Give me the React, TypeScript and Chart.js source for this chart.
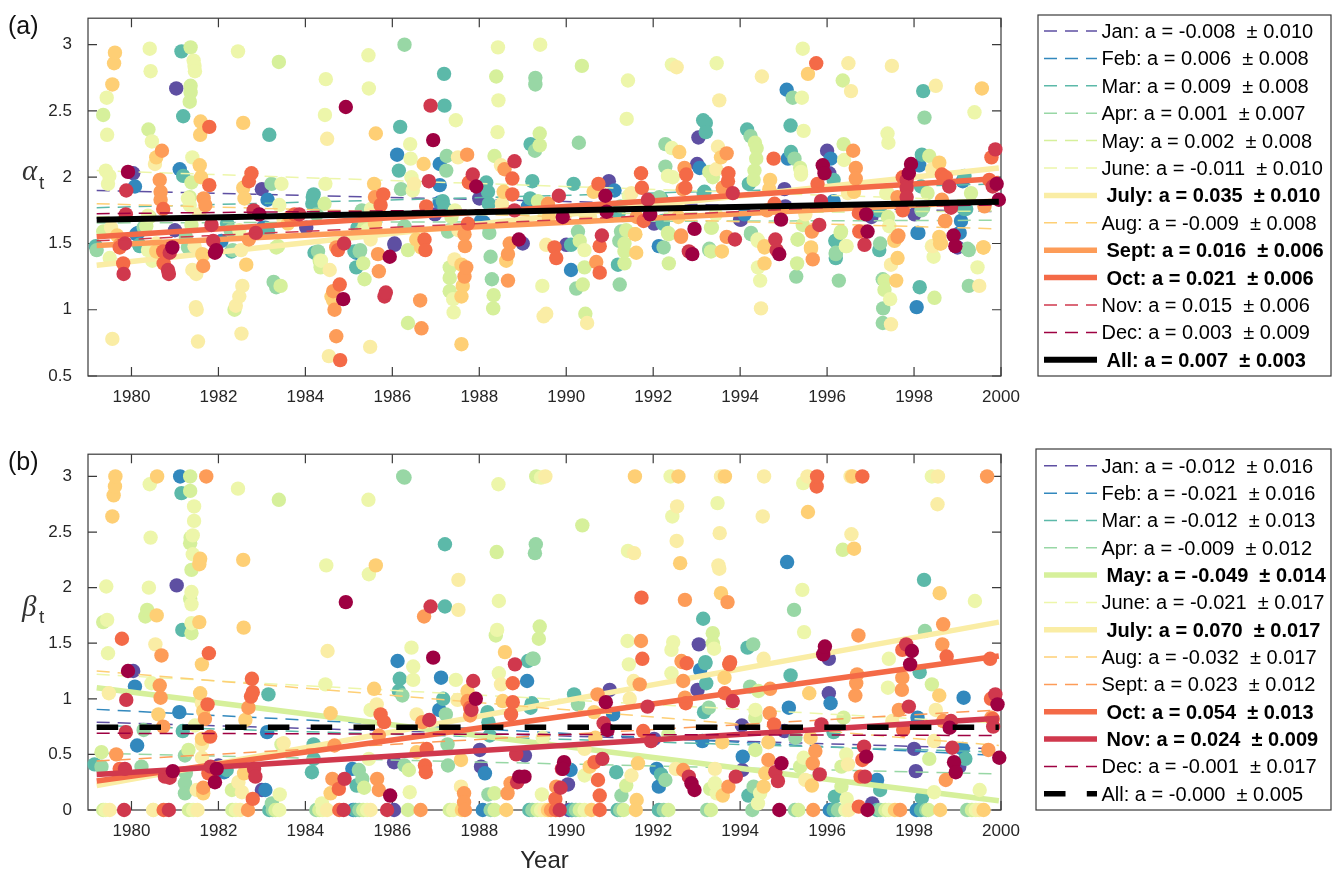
import React, { useEffect, useRef } from "react";
import { Chart, registerables } from "chart.js";

Chart.register(...registerables);

type P = [number, number];

const monthNames = ["Jan", "Feb", "Mar", "Apr", "May", "June", "July", "Aug", "Sept", "Oct", "Nov", "Dec"];
const monthColors = ["#5E4FA2", "#3288BD", "#5CB9A9", "#98D7A5", "#D6F09B", "#EDF6AA", "#FAEDA5", "#FECF75", "#FD9C58", "#F46A47", "#D0384D", "#9E0142"];
const yearTicks = [1980, 1982, 1984, 1986, 1988, 1990, 1992, 1994, 1996, 1998, 2000];
const alphaTicks = [0.5, 1, 1.5, 2, 2.5, 3];
const betaTicks = [0, 0.5, 1, 1.5, 2, 2.5, 3];
const fitSpan = [1979.2, 1999.95];

const alphaSlopes = ["-0.008", "0.006", "0.009", "0.001", "0.002", "-0.011", "0.035", "-0.009", "0.016", "0.021", "0.015", "0.003", "0.007"];
const alphaErrors = ["0.010", "0.008", "0.008", "0.007", "0.008", "0.010", "0.010", "0.008", "0.006", "0.006", "0.006", "0.009", "0.003"];
const alphaBold = [false, false, false, false, false, false, true, false, true, true, false, false, true];
const alphaFitStart = [1.9, 1.69, 1.77, 1.655, 1.7, 2.05, 1.335, 1.8, 1.485, 1.55, 1.52, 1.725, 1.68];
const alphaFitEnd = [1.74, 1.82, 1.95, 1.675, 1.745, 1.82, 2.07, 1.61, 1.82, 1.99, 1.83, 1.79, 1.815];

const betaSlopes = ["-0.012", "-0.021", "-0.012", "-0.009", "-0.049", "-0.021", "0.070", "-0.032", "0.023", "0.054", "0.024", "-0.001", "-0.000"];
const betaErrors = ["0.016", "0.016", "0.013", "0.012", "0.014", "0.017", "0.017", "0.017", "0.012", "0.013", "0.009", "0.017", "0.005"];
const betaBold = [false, false, false, false, true, false, true, false, false, true, true, false, false];
const betaFitStart = [0.79, 0.905, 0.76, 0.51, 1.1, 1.22, 0.22, 1.25, 0.44, 0.26, 0.32, 0.69, 0.745];
const betaFitEnd = [0.55, 0.49, 0.52, 0.325, 0.083, 0.78, 1.69, 0.58, 0.9, 1.385, 0.825, 0.67, 0.745];

const alphaJan: P[] = [[1980.04,2.03],[1981.03,2.67],[1981.0,1.6],[1983.0,1.91],[1984.02,1.62],[1986.05,1.49],[1986.98,1.72],[1988.0,1.84],[1989.0,1.5],[1990.0,1.49],[1990.98,1.97],[1992.02,1.65],[1993.01,2.1],[1993.04,2.3],[1994.0,1.68],[1995.02,1.91],[1995.04,1.78],[1996.0,2.2],[1996.05,2.03],[1997.02,1.7],[1998.01,1.72],[1999.0,1.47],[1986.05,1.5],[1994.02,1.68]];
const alphaFeb: P[] = [[1980.08,1.93],[1980.11,1.57],[1980.15,1.58],[1981.11,2.06],[1982.07,1.52],[1983.02,1.62],[1983.13,1.83],[1983.08,1.62],[1985.17,1.43],[1986.11,2.17],[1987.09,2.1],[1987.09,1.94],[1987.09,1.81],[1988.04,1.67],[1988.1,1.66],[1989.12,1.78],[1990.11,1.3],[1991.11,1.9],[1992.13,1.48],[1993.07,2.07],[1994.1,1.72],[1995.07,2.66],[1995.1,2.14],[1996.08,2.14],[1996.15,1.82],[1997.12,1.75],[1998.06,1.02],[1998.08,1.58],[1998.1,1.58],[1998.12,2.09],[1999.05,1.58],[1999.08,1.67],[1999.12,1.97]];
const alphaMar: P[] = [[1979.18,1.48],[1980.18,1.49],[1980.19,1.48],[1981.15,2.95],[1981.19,2.46],[1981.19,2.01],[1982.2,1.65],[1982.3,1.44],[1983.14,1.59],[1983.17,2.32],[1984.16,1.8],[1984.17,1.85],[1984.19,1.87],[1984.21,1.43],[1985.13,1.44],[1985.17,1.32],[1985.2,1.62],[1986.15,2.05],[1986.18,2.38],[1987.16,1.82],[1987.19,2.78],[1987.2,2.54],[1987.2,1.77],[1988.16,1.96],[1988.2,1.89],[1988.22,1.8],[1989.17,1.84],[1989.18,2.25],[1989.22,1.97],[1990.11,1.49],[1990.17,1.95],[1991.19,1.34],[1991.2,1.72],[1992.18,1.84],[1992.22,1.65],[1992.22,1.67],[1993.15,2.43],[1993.18,1.89],[1993.21,2.41],[1993.21,2.34],[1993.16,1.88],[1994.16,2.36],[1994.2,1.95],[1995.16,2.39],[1995.17,2.19],[1996.15,1.98],[1996.19,1.52],[1996.2,1.39],[1996.2,1.52],[1997.2,1.45],[1997.2,1.75],[1998.13,1.17],[1998.16,1.93],[1998.18,2.17],[1998.21,2.65],[1999.15,1.76],[1999.16,2.01],[1999.2,1.76]];
const alphaApr: P[] = [[1979.2,1.45],[1980.28,1.62],[1981.25,1.55],[1981.3,1.47],[1982.28,1.6],[1982.33,1.45],[1983.22,1.95],[1983.27,1.21],[1983.33,1.17],[1984.26,1.72],[1984.29,1.44],[1985.25,1.44],[1985.26,1.45],[1985.28,1.59],[1985.3,1.75],[1986.2,1.91],[1986.28,3.0],[1986.28,1.63],[1987.24,2.05],[1987.25,2.16],[1987.28,1.59],[1987.32,1.6],[1988.23,1.58],[1988.26,1.4],[1988.29,1.23],[1989.29,2.75],[1989.29,2.7],[1989.28,2.2],[1990.23,1.16],[1990.27,1.59],[1990.29,2.26],[1991.22,1.52],[1991.23,1.19],[1991.25,1.78],[1991.26,1.59],[1992.14,1.85],[1992.24,1.47],[1992.28,2.08],[1992.28,2.25],[1993.29,1.46],[1993.29,1.45],[1994.24,2.31],[1994.25,1.57],[1994.25,1.58],[1995.21,2.6],[1995.25,2.14],[1995.29,1.25],[1996.2,1.43],[1996.2,1.42],[1996.27,1.22],[1997.22,1.5],[1997.28,1.23],[1997.29,1.01],[1997.28,0.9],[1998.17,1.75],[1998.21,1.77],[1998.24,2.45],[1999.23,1.46],[1999.26,1.45],[1999.26,1.18]];
const alphaMay: P[] = [[1979.35,2.47],[1979.35,1.59],[1980.39,2.36],[1980.34,1.63],[1980.42,1.7],[1981.34,2.57],[1981.36,2.69],[1981.36,2.64],[1981.36,2.98],[1981.38,1.96],[1981.38,1.64],[1981.34,1.85],[1982.37,1.0],[1983.33,1.47],[1983.37,1.48],[1983.39,2.87],[1983.43,1.18],[1984.33,1.37],[1984.35,1.32],[1984.44,1.8],[1985.33,1.35],[1985.36,1.23],[1985.36,1.63],[1985.38,1.68],[1986.36,0.9],[1986.36,1.45],[1987.32,1.32],[1987.32,1.24],[1987.32,1.14],[1987.36,1.7],[1988.32,1.01],[1988.33,1.11],[1988.35,2.16],[1988.39,2.76],[1989.35,1.82],[1989.39,2.33],[1989.39,2.24],[1990.31,1.52],[1990.36,2.84],[1990.38,1.19],[1990.42,1.32],[1990.44,0.97],[1991.34,1.35],[1991.34,1.44],[1991.34,1.5],[1991.38,1.6],[1992.34,1.58],[1992.36,1.57],[1992.36,1.35],[1993.29,2.04],[1993.37,2.0],[1993.33,1.44],[1993.33,1.62],[1993.35,1.62],[1994.34,2.26],[1994.38,2.22],[1994.37,2.14],[1994.33,2.05],[1994.31,1.98],[1995.31,1.35],[1995.32,1.53],[1995.33,1.53],[1995.38,2.07],[1995.44,1.64],[1996.31,1.58],[1996.32,1.59],[1996.36,2.73],[1996.38,2.25],[1997.32,1.22],[1997.32,1.15],[1997.4,1.7],[1998.31,1.88],[1998.35,2.16],[1998.47,1.09],[1999.31,1.88]];
const alphaJune: P[] = [[1979.41,2.05],[1979.43,2.6],[1979.44,2.32],[1979.46,1.95],[1979.49,2.01],[1979.5,1.39],[1980.38,1.71],[1980.38,1.45],[1980.42,2.97],[1980.44,2.8],[1980.47,2.27],[1980.48,1.37],[1981.3,1.84],[1981.34,1.79],[1981.4,2.15],[1981.43,2.88],[1981.45,2.84],[1981.46,2.8],[1982.45,2.95],[1982.48,1.6],[1983.4,1.79],[1983.45,1.95],[1984.36,1.37],[1984.45,2.47],[1984.46,1.95],[1984.47,2.74],[1985.42,1.6],[1985.45,2.92],[1985.46,2.67],[1985.51,1.76],[1986.41,2.25],[1986.42,2.14],[1986.44,2.0],[1986.47,1.9],[1987.4,1.08],[1987.41,0.98],[1987.46,2.43],[1987.44,1.75],[1988.42,2.34],[1988.43,2.98],[1988.44,2.58],[1989.4,3.0],[1989.45,1.18],[1990.42,1.45],[1990.44,1.72],[1991.39,2.44],[1991.42,2.73],[1991.44,1.86],[1992.34,2.01],[1992.43,2.22],[1992.43,2.85],[1992.45,2.0],[1993.46,2.86],[1993.44,1.72],[1994.4,1.53],[1994.41,1.52],[1994.41,1.32],[1994.46,1.22],[1995.4,2.02],[1995.4,2.04],[1995.42,2.6],[1995.44,2.97],[1995.46,2.35],[1996.39,2.13],[1996.43,1.48],[1996.45,1.48],[1997.36,1.88],[1997.39,2.33],[1997.39,1.88],[1997.41,2.26],[1997.43,1.63],[1997.45,1.08],[1998.41,1.48],[1998.45,1.4],[1999.39,2.49],[1999.46,1.32]];
const alphaJuly: P[] = [[1979.56,0.78],[1979.53,1.62],[1980.54,2.1],[1980.57,1.5],[1981.4,1.3],[1981.45,1.48],[1981.49,1.27],[1981.48,1.02],[1981.5,1.0],[1981.53,0.76],[1981.56,1.72],[1982.4,1.03],[1982.48,1.1],[1982.52,1.45],[1982.55,1.18],[1982.53,0.82],[1983.5,1.68],[1984.5,2.29],[1984.56,1.3],[1984.54,0.65],[1985.49,0.72],[1985.5,1.53],[1985.52,1.72],[1986.5,1.95],[1987.43,1.38],[1987.51,2.15],[1987.52,1.6],[1988.5,2.09],[1988.52,1.8],[1989.48,0.95],[1989.54,0.97],[1989.54,1.49],[1990.48,0.9],[1990.55,1.7],[1991.5,1.88],[1992.54,2.83],[1992.5,1.75],[1993.45,2.06],[1993.49,2.23],[1993.52,2.58],[1994.48,1.01],[1994.5,2.76],[1995.5,1.72],[1996.48,1.88],[1996.49,2.86],[1996.55,2.65],[1997.47,0.89],[1997.47,1.34],[1997.49,2.84],[1998.42,2.06],[1998.43,1.48],[1998.5,2.69],[1999.5,1.18]];
const alphaAug: P[] = [[1979.56,2.7],[1979.6,2.86],[1979.62,2.94],[1979.67,1.56],[1980.57,1.44],[1980.57,2.15],[1981.57,2.09],[1981.58,2.32],[1981.59,2.42],[1981.6,2.0],[1981.63,1.42],[1981.64,1.41],[1982.57,1.92],[1982.57,2.41],[1982.6,1.84],[1982.64,1.34],[1983.6,1.65],[1984.6,1.1],[1984.64,1.07],[1985.58,1.95],[1985.62,2.33],[1985.6,1.65],[1986.55,1.53],[1986.66,1.47],[1986.72,2.1],[1987.59,1.34],[1987.59,1.1],[1987.62,1.18],[1987.59,0.74],[1988.56,1.89],[1988.62,1.37],[1989.6,1.7],[1990.63,1.89],[1991.58,1.57],[1991.59,1.57],[1991.61,1.43],[1992.6,2.19],[1992.58,1.7],[1993.56,2.15],[1993.58,1.44],[1994.56,1.47],[1994.56,1.48],[1994.56,1.35],[1994.67,1.91],[1994.69,1.98],[1995.56,2.78],[1995.63,1.47],[1995.63,1.46],[1996.62,1.89],[1997.55,1.52],[1997.55,1.53],[1997.59,1.22],[1997.62,1.39],[1998.58,2.11],[1998.58,1.55],[1998.6,1.5],[1998.62,1.5],[1999.56,2.67],[1999.59,1.47],[1999.6,1.47]];
const alphaSept: P[] = [[1979.73,1.49],[1980.65,1.98],[1980.67,1.89],[1980.67,1.83],[1980.7,2.2],[1981.65,1.33],[1981.66,1.84],[1981.7,1.79],[1982.7,1.53],[1983.65,1.7],[1984.64,1.14],[1984.67,1.0],[1984.71,0.8],[1984.71,1.47],[1985.6,1.85],[1985.67,1.42],[1985.69,1.29],[1986.64,1.07],[1986.67,0.86],[1987.66,1.25],[1987.66,1.57],[1987.67,1.48],[1987.7,1.32],[1987.72,2.17],[1988.58,2.06],[1988.66,1.42],[1988.66,1.22],[1988.7,1.5],[1989.58,1.8],[1990.69,1.36],[1991.62,1.7],[1992.64,1.55],[1992.64,1.56],[1992.68,1.91],[1992.72,2.07],[1993.6,1.92],[1993.69,1.55],[1993.69,2.18],[1994.62,1.75],[1995.65,1.59],[1995.67,1.38],[1996.6,2.2],[1996.66,2.07],[1996.66,1.99],[1997.62,1.85],[1997.62,1.55],[1997.64,1.56],[1998.64,1.83],[1998.71,1.67],[1998.72,1.67],[1999.62,1.78]];
const alphaOct: P[] = [[1979.73,1.47],[1979.81,1.35],[1980.73,1.76],[1980.73,1.44],[1980.74,1.35],[1981.79,2.38],[1981.79,1.94],[1982.7,1.97],[1982.76,2.03],[1983.75,1.72],[1984.75,1.45],[1984.79,1.19],[1984.8,0.62],[1985.73,1.79],[1985.79,1.87],[1986.74,1.53],[1986.76,1.45],[1986.78,1.78],[1987.74,1.65],[1987.76,1.96],[1988.76,1.99],[1988.76,1.87],[1989.73,1.47],[1989.77,1.39],[1990.74,1.95],[1990.77,1.48],[1990.77,1.28],[1991.72,2.03],[1991.74,1.92],[1991.78,1.67],[1992.74,1.92],[1992.76,2.02],[1993.72,1.97],[1993.73,2.03],[1994.77,2.14],[1994.79,1.8],[1995.75,2.86],[1995.78,1.95],[1996.73,1.73],[1996.74,1.59],[1997.74,2.0],[1997.74,1.75],[1998.64,2.02],[1998.73,2.0],[1999.73,1.98],[1999.78,2.15]];
const alphaNov: P[] = [[1979.85,1.5],[1979.82,1.27],[1979.87,1.72],[1979.88,1.9],[1980.84,1.3],[1980.86,1.27],[1980.88,1.43],[1981.84,1.64],[1981.88,1.52],[1982.81,1.75],[1982.86,1.58],[1983.86,1.72],[1984.89,1.5],[1985.82,1.1],[1985.85,1.13],[1986.84,1.97],[1986.88,2.54],[1987.85,2.02],[1988.81,2.12],[1988.81,1.75],[1989.83,1.86],[1990.82,1.56],[1991.88,1.83],[1992.82,1.44],[1993.83,1.88],[1993.88,1.53],[1994.81,1.53],[1994.84,1.45],[1995.82,1.64],[1995.86,1.82],[1996.86,1.49],[1997.83,1.98],[1997.83,1.92],[1997.83,1.85],[1998.81,1.93],[1998.85,1.77],[1999.81,1.93],[1999.87,2.21]];
const alphaDec: P[] = [[1979.92,2.04],[1980.94,1.47],[1981.92,1.43],[1981.95,1.45],[1982.94,1.72],[1984.93,2.53],[1984.87,1.08],[1985.94,1.4],[1986.94,2.28],[1987.93,1.93],[1988.91,1.53],[1989.92,1.7],[1990.9,1.86],[1990.93,1.74],[1991.93,1.72],[1992.9,1.42],[1992.95,1.61],[1994.9,1.42],[1994.94,1.68],[1995.9,2.09],[1995.94,2.03],[1996.9,1.72],[1996.93,1.59],[1997.88,2.03],[1997.93,2.1],[1998.91,1.56],[1998.95,1.48],[1999.9,1.95],[1999.95,1.83]];

const betaJan: P[] = [[1980.04,1.25],[1981.04,2.02],[1982.0,0.4],[1983.0,0.18],[1986.04,0.43],[1986.04,0],[1988.01,0.54],[1988.04,0.39],[1989.05,0.49],[1990.04,0.23],[1990.06,0],[1991.0,1.08],[1992.02,0.64],[1993.02,1.08],[1993.05,1.49],[1994.04,0.76],[1994.05,0.36],[1995.02,0.71],[1996.04,1.05],[1996.04,1.36],[1997.04,0.06],[1998.0,0.55],[1998.04,0.35],[1999.04,0.39]];
const betaFeb: P[] = [[1980.08,1.11],[1980.13,0.58],[1981.1,0.88],[1981.12,3.0],[1982.13,0.34],[1983.08,0.18],[1983.12,0.7],[1985.08,0.37],[1985.1,0],[1986.12,1.34],[1987.08,0.9],[1987.12,1.19],[1988.08,0],[1988.13,0.33],[1989.1,1.16],[1990.1,0.36],[1990.12,0],[1991.08,0.86],[1992.08,0.37],[1992.13,0.21],[1993.08,1.26],[1993.13,0.62],[1994.06,0.48],[1995.08,2.23],[1995.12,0.92],[1996.08,0.96],[1996.06,0],[1997.15,0.27],[1998.06,0],[1998.08,0.83],[1999.12,0.55],[1999.14,1.01]];
const betaMar: P[] = [[1979.15,0.41],[1981.15,2.85],[1981.17,1.62],[1981.18,0.71],[1982.19,0.36],[1983.15,1.04],[1983.17,0],[1984.15,0.34],[1984.19,0.59],[1984.19,0.46],[1985.15,0],[1985.18,0.22],[1986.15,1.07],[1986.17,1.18],[1987.17,1.0],[1987.21,2.39],[1987.21,1.83],[1988.19,0.88],[1988.21,0.79],[1988.24,0.67],[1989.12,1.34],[1989.18,0.92],[1989.21,0.96],[1989.15,0],[1990.14,0],[1990.18,1.04],[1991.15,0.34],[1991.18,0],[1992.13,0],[1992.18,0.32],[1993.15,1.72],[1993.17,0.88],[1993.2,1.33],[1993.2,1.32],[1993.22,1.14],[1994.17,1.46],[1994.19,0.13],[1995.16,1.21],[1996.15,0.7],[1996.15,0],[1996.18,0.12],[1997.15,0],[1997.22,0.18],[1998.13,1.24],[1998.18,0.11],[1998.16,0],[1998.23,2.07],[1999.18,0.46]];
const betaApr: P[] = [[1979.31,0.39],[1980.23,0.39],[1980.28,0.72],[1981.23,0.49],[1981.25,0.33],[1981.23,0.24],[1981.23,0.15],[1983.23,0.06],[1983.25,0],[1984.25,0],[1985.23,0.36],[1985.31,0.28],[1985.24,0],[1986.23,1.03],[1986.25,3.0],[1986.28,2.99],[1986.28,0.4],[1987.23,0.86],[1987.27,0.59],[1987.28,0.4],[1988.21,0.14],[1988.26,0],[1989.22,1.36],[1989.25,1.36],[1989.28,2.31],[1989.3,2.39],[1989.22,0],[1990.27,0.95],[1990.22,0],[1991.27,0.13],[1991.24,0],[1992.28,0.27],[1992.24,0],[1993.28,0.92],[1993.24,0],[1994.23,1.11],[1994.3,1.49],[1994.31,0.21],[1994.28,0],[1995.24,1.8],[1995.27,0.65],[1995.26,0],[1996.25,0],[1997.22,0],[1998.25,1.61],[1998.28,0],[1999.22,0]];
const betaMay: P[] = [[1979.31,0.52],[1979.35,1.69],[1979.35,0],[1980.32,1.74],[1980.36,1.8],[1981.31,0.54],[1981.35,3.0],[1981.35,2.87],[1981.35,2.4],[1981.36,2.45],[1981.35,1.9],[1981.38,2.16],[1981.38,1.59],[1981.32,0],[1982.31,0.18],[1982.32,0],[1983.31,0],[1983.39,2.79],[1983.45,0.59],[1984.32,0],[1985.33,0],[1985.35,0.2],[1986.38,0.36],[1986.36,0],[1987.32,0],[1988.35,0.15],[1988.35,0],[1988.38,1.57],[1988.4,2.32],[1989.31,3.0],[1989.34,0],[1989.37,1.54],[1989.39,1.65],[1990.31,0],[1990.37,2.56],[1991.32,0],[1991.38,0.22],[1992.35,0.68],[1992.35,0],[1993.31,0.19],[1993.33,0],[1993.37,1.59],[1993.37,1.5],[1994.35,0.83],[1994.35,0.54],[1994.42,1.07],[1995.34,0],[1995.38,0.39],[1996.33,0.39],[1996.33,0.21],[1996.36,2.34],[1996.38,0.83],[1997.34,0],[1998.33,0],[1998.35,0.46],[1998.41,1.13],[1999.33,0]];
const betaJune: P[] = [[1979.42,2.01],[1979.44,1.71],[1979.46,1.41],[1979.4,0],[1980.4,2.0],[1980.42,2.93],[1980.44,2.45],[1980.46,1.14],[1980.5,0],[1981.38,1.96],[1981.38,1.85],[1981.38,1.68],[1981.41,2.47],[1981.41,2.3],[1981.44,2.73],[1981.44,2.6],[1981.46,0.76],[1981.42,0],[1982.45,2.89],[1982.4,0],[1983.41,0.14],[1983.4,0],[1984.38,0.06],[1984.46,1.13],[1984.48,2.2],[1984.4,0],[1985.45,2.79],[1985.46,2.12],[1985.46,0.46],[1985.5,0.9],[1985.42,0],[1986.4,0.16],[1986.44,1.46],[1986.48,1.29],[1986.48,1.17],[1987.46,1.17],[1987.4,0],[1988.41,1.62],[1988.44,2.93],[1988.45,1.88],[1988.45,1.23],[1989.42,2.99],[1989.44,0.14],[1989.46,0.65],[1989.42,0],[1990.42,0.31],[1990.42,0],[1991.41,1.52],[1991.42,2.33],[1991.44,1.31],[1992.4,3.0],[1992.42,1.44],[1992.42,1.23],[1992.44,2.64],[1992.46,1.51],[1993.4,1.45],[1993.42,0.24],[1993.46,0.15],[1993.48,2.76],[1994.35,0.9],[1994.41,0.06],[1994.46,0.15],[1995.43,1.98],[1995.45,2.94],[1995.46,0.47],[1995.47,1.6],[1996.44,0.5],[1996.45,0.1],[1996.42,0],[1997.4,1.1],[1997.42,1.36],[1997.42,0],[1998.41,3.0],[1998.46,0.16],[1999.4,1.88],[1999.42,0],[1999.51,0.18]];
const betaJuly: P[] = [[1979.48,1.05],[1979.5,0],[1980.55,1.49],[1980.5,0],[1981.5,0.18],[1981.52,0],[1981.62,0.59],[1981.62,0.47],[1981.62,0.96],[1982.46,0.25],[1982.54,0.16],[1982.5,0],[1983.5,0.6],[1984.51,1.43],[1984.5,0],[1985.5,0],[1985.64,0.95],[1986.56,0.86],[1987.5,0.99],[1987.52,2.07],[1987.52,1.8],[1987.58,0.21],[1988.5,1.13],[1989.52,3.0],[1989.5,0],[1990.42,0.55],[1991.46,1.0],[1991.5,0.31],[1991.55,1.16],[1991.56,2.31],[1992.52,0.37],[1992.54,2.42],[1992.55,2.73],[1993.42,0.37],[1993.5,2.2],[1993.52,2.17],[1993.53,2.49],[1993.56,3.0],[1994.52,2.64],[1994.54,1.36],[1994.55,3.0],[1995.5,0.27],[1995.55,3.0],[1996.48,0.41],[1996.54,3.0],[1996.56,2.48],[1996.5,0],[1997.5,0.8],[1998.46,0.62],[1998.5,0.9],[1998.54,2.75],[1998.55,3.0],[1999.5,0]];
const betaAug: P[] = [[1979.56,2.64],[1979.59,2.83],[1979.62,2.91],[1979.63,3.0],[1980.58,1.75],[1980.59,3.0],[1980.62,0.86],[1981.56,2.21],[1981.56,1.69],[1981.58,2.26],[1981.58,1.05],[1981.62,1.31],[1981.62,0.64],[1981.65,0.89],[1981.65,0.15],[1982.57,2.25],[1982.58,1.64],[1982.59,0.33],[1982.62,0.81],[1984.58,0.87],[1984.58,0.15],[1985.58,1.09],[1985.62,2.2],[1986.56,0.52],[1987.58,0.45],[1987.6,0],[1987.73,1.07],[1988.54,0.98],[1988.59,1.42],[1988.62,0],[1989.58,0],[1990.54,0.39],[1990.58,0],[1990.64,0.88],[1990.67,0.65],[1991.58,3.0],[1991.62,0.09],[1991.65,0.42],[1991.6,0],[1992.58,3.0],[1992.62,2.22],[1993.56,1.95],[1993.59,0.61],[1993.6,0.13],[1993.64,1.19],[1993.65,3.0],[1994.54,0.21],[1994.58,0.33],[1994.65,0.61],[1995.56,2.68],[1995.59,1.05],[1995.62,0.65],[1995.65,0.22],[1996.58,3.0],[1996.62,2.35],[1997.56,0],[1998.58,1.03],[1998.59,1.95],[1998.6,0],[1999.6,0]];
const betaSept: P[] = [[1979.65,0.5],[1980.65,1.12],[1980.67,1.01],[1980.69,1.39],[1980.73,0.75],[1981.65,0.2],[1981.69,0.82],[1981.72,3.0],[1982.69,0.92],[1982.68,0],[1984.62,0.28],[1984.67,0.58],[1985.65,0.28],[1985.69,0.67],[1985.69,0.18],[1986.69,0.79],[1986.65,0],[1986.73,1.74],[1987.65,0.15],[1987.65,0.07],[1987.67,0],[1987.73,0.98],[1987.79,0.85],[1988.65,0.15],[1988.72,0.24],[1989.65,0],[1989.77,0.21],[1990.72,1.04],[1991.69,1.13],[1991.72,1.52],[1992.65,1.34],[1992.67,1.33],[1992.69,1.16],[1992.69,0.36],[1992.73,1.01],[1992.73,1.89],[1993.71,1.87],[1993.73,0.21],[1994.65,0.45],[1994.68,0.87],[1994.69,1.09],[1995.67,0.42],[1995.68,0],[1995.73,0.53],[1996.65,1.03],[1996.67,1.14],[1996.69,1.22],[1996.72,1.57],[1997.65,0.9],[1997.68,0],[1997.72,1.08],[1997.73,1.19],[1998.65,1.49],[1998.67,1.67],[1998.67,0.8],[1998.73,0.27],[1999.68,3.0],[1999.71,0.54],[1999.78,0.83]];
const betaOct: P[] = [[1979.73,0.37],[1979.78,1.54],[1980.74,0],[1981.75,0.95],[1981.77,0.33],[1981.78,1.41],[1981.81,0.66],[1982.75,1.02],[1982.77,1.18],[1982.79,1.06],[1982.79,0.1],[1984.77,0.19],[1984.78,0],[1985.73,0.86],[1985.81,0.79],[1986.75,0.4],[1986.77,0.34],[1986.79,0.55],[1987.79,0.92],[1988.73,0.86],[1988.77,1.14],[1988.77,0.97],[1989.75,0.1],[1989.76,0],[1990.65,0.43],[1990.73,0.27],[1990.77,0.13],[1990.77,0],[1991.73,1.91],[1991.75,1.36],[1991.77,0.71],[1992.75,0.96],[1992.77,1.32],[1993.65,1.05],[1993.75,1.31],[1993.77,1.33],[1994.78,0.77],[1995.76,2.91],[1995.77,3.0],[1996.73,0.03],[1996.77,0.3],[1996.81,3.0],[1996.81,0.45],[1997.73,1.44],[1997.75,0.72],[1998.75,1.38],[1999.75,1.36],[1999.77,1.0],[1999.81,0.82]];
const betaNov: P[] = [[1979.83,0],[1979.85,0.37],[1979.87,0.7],[1979.88,0.99],[1980.77,0.3],[1980.88,0.29],[1980.86,0],[1981.82,0.39],[1982.82,0.37],[1982.85,0.3],[1984.9,0.28],[1984.88,0],[1985.88,0],[1986.85,0.81],[1986.88,1.83],[1987.82,0.9],[1987.86,1.16],[1988.82,1.31],[1988.85,0.5],[1988.87,0.25],[1989.87,0.2],[1989.9,0.37],[1989.85,0],[1990.83,0.46],[1990.86,0.78],[1991.87,0.93],[1991.95,0.62],[1992.82,0.3],[1993.83,0.98],[1993.9,0.3],[1994.81,0.34],[1994.87,0.26],[1995.83,0.32],[1995.87,0.77],[1996.85,0.57],[1996.87,0.3],[1997.82,1.49],[1997.88,0.93],[1998.85,0.8],[1998.88,0.56],[1999.82,0.75],[1999.87,1.04]];
const betaDec: P[] = [[1979.92,1.25],[1980.95,0.35],[1981.92,0.25],[1981.96,0.37],[1984.93,1.87],[1985.95,0.13],[1986.94,1.37],[1987.92,1.0],[1988.92,0.3],[1989.04,0.3],[1989.95,0.43],[1989.92,0.37],[1990.91,0.97],[1990.95,0.72],[1992.88,0.24],[1992.95,0.18],[1994.9,0],[1994.95,0.42],[1995.91,1.4],[1995.95,1.47],[1996.9,0.48],[1996.93,0],[1997.91,1.31],[1997.95,1.43],[1998.82,0.74],[1998.92,0.43],[1998.96,0.34],[1999.92,0.95],[1999.96,0.47]];

const alphaPoints = [alphaJan, alphaFeb, alphaMar, alphaApr, alphaMay, alphaJune, alphaJuly, alphaAug, alphaSept, alphaOct, alphaNov, alphaDec];
const betaPoints = [betaJan, betaFeb, betaMar, betaApr, betaMay, betaJune, betaJuly, betaAug, betaSept, betaOct, betaNov, betaDec];

const INK = "#262626";
const SANS = '"Liberation Sans", Arial, sans-serif';

interface PanelCfg {
  tag: string;
  greek: string;
  points: P[][];
  slopes: string[];
  errors: string[];
  bold: boolean[];
  fitStart: number[];
  fitEnd: number[];
  yMin: number;
  yTicks: number[];
  allDash: number[];
  canvasTop: number;
  canvasHeight: number;
  areaTop: number;
  areaBottom: number;
  legendLeft: number;
  legendTop: number;
  legendBottom: number;
  legendFirst: number;
  legendStep: number;
  tagY: number;
  greekY: number;
  subDrop: number;
  xTitle?: string;
}

function styleOf(cfg: PanelCfg, k: number) {
  if (k === 12) return { color: "#000000", width: cfg.allDash.length ? 5.5 : 6, dash: cfg.allDash };
  return cfg.bold[k]
    ? { color: monthColors[k], width: 5.5, dash: [] as number[] }
    : { color: monthColors[k], width: 1.5, dash: [13, 8] };
}

function panelPlugin(cfg: PanelCfg) {
  return {
    id: "panelFrame" + cfg.tag,
    beforeDatasetsDraw(chart: any) {
      const { ctx, chartArea: a, scales } = chart;
      ctx.save();
      ctx.strokeStyle = "#3a3a3a";
      ctx.lineWidth = 1.2;
      ctx.strokeRect(a.left, a.top, a.right - a.left, a.bottom - a.top);
      ctx.beginPath();
      const tick = 9;
      for (const v of yearTicks) {
        const x = scales.x.getPixelForValue(v);
        ctx.moveTo(x, a.bottom);
        ctx.lineTo(x, a.bottom - tick);
        ctx.moveTo(x, a.top);
        ctx.lineTo(x, a.top + tick);
      }
      for (const v of cfg.yTicks) {
        const y = scales.y.getPixelForValue(v);
        ctx.moveTo(a.left, y);
        ctx.lineTo(a.left + tick, y);
        ctx.moveTo(a.right, y);
        ctx.lineTo(a.right - tick, y);
      }
      ctx.stroke();
      ctx.restore();
    },
    afterDraw(chart: any) {
      const { ctx } = chart;
      ctx.save();
      ctx.textBaseline = "middle";
      ctx.textAlign = "left";
      ctx.fillStyle = "#111111";
      ctx.font = `25px ${SANS}`;
      ctx.fillText(`(${cfg.tag})`, 8, cfg.tagY);

      ctx.fillStyle = "#333333";
      ctx.font = `italic 29px "Liberation Serif", serif`;
      ctx.fillText(cfg.greek, 22, cfg.greekY);
      ctx.font = `19px ${SANS}`;
      ctx.fillText("t", 39, cfg.greekY + cfg.subDrop);

      const L = cfg.legendLeft;
      const R = 1331;
      ctx.strokeStyle = "#3a3a3a";
      ctx.lineWidth = 1.2;
      ctx.strokeRect(L, cfg.legendTop, R - L, cfg.legendBottom - cfg.legendTop);
      for (let k = 0; k < 13; k++) {
        const y = cfg.legendFirst + k * cfg.legendStep;
        const s = styleOf(cfg, k);
        ctx.beginPath();
        ctx.strokeStyle = s.color;
        ctx.lineWidth = s.width;
        ctx.setLineDash(s.dash);
        ctx.moveTo(1044, y - 1.5);
        ctx.lineTo(1097, y - 1.5);
        ctx.stroke();
        ctx.setLineDash([]);
        const name = k === 12 ? "All" : monthNames[k];
        ctx.fillStyle = "#000000";
        ctx.font = `${cfg.bold[k] ? "bold " : ""}20px ${SANS}`;
        ctx.fillText(`${name}: a = ${cfg.slopes[k]}  \u00B1 ${cfg.errors[k]}`, cfg.bold[k] ? 1106.5 : 1101.5, y);
      }
      ctx.restore();
    },
  };
}

function buildChart(canvas: HTMLCanvasElement, cfg: PanelCfg) {
  const datasets: any[] = [];
  cfg.points.forEach((pts, k) => {
    datasets.push({
      type: "scatter",
      data: pts.map(([x, y]) => ({ x, y })),
      backgroundColor: monthColors[k],
      borderWidth: 0,
      pointRadius: 7.2,
      pointHoverRadius: 7.2,
      clip: false,
      order: 2 * (13 - k) + 1,
    });
    const s = styleOf(cfg, k);
    datasets.push({
      type: "line",
      data: [{ x: fitSpan[0], y: cfg.fitStart[k] }, { x: fitSpan[1], y: cfg.fitEnd[k] }],
      borderColor: s.color,
      borderWidth: s.width,
      borderDash: s.dash,
      pointRadius: 0,
      fill: false,
      clip: false,
      order: 2 * (13 - k),
    });
  });
  const all = styleOf(cfg, 12);
  datasets.push({
    type: "line",
    data: [{ x: fitSpan[0], y: cfg.fitStart[12] }, { x: fitSpan[1], y: cfg.fitEnd[12] }],
    borderColor: all.color,
    borderWidth: all.width,
    borderDash: all.dash,
    pointRadius: 0,
    fill: false,
    clip: false,
    order: 0,
  });

  const xAxisHeight = cfg.canvasHeight - cfg.areaBottom;
  return new Chart(canvas, {
    data: { datasets },
    plugins: [panelPlugin(cfg)],
    options: {
      animation: false,
      responsive: false,
      devicePixelRatio: 1,
      events: [],
      layout: { padding: { left: 0, right: 333, top: cfg.areaTop, bottom: 0 } },
      plugins: { legend: { display: false }, tooltip: { enabled: false }, title: { display: false } },
      scales: {
        x: {
          type: "linear",
          min: 1979,
          max: 2000,
          grid: { display: false },
          border: { display: false },
          afterBuildTicks: (s: any) => { s.ticks = yearTicks.map((value) => ({ value })); },
          afterFit: (s: any) => { s.height = xAxisHeight; },
          ticks: {
            autoSkip: false,
            maxRotation: 0,
            padding: 3.5,
            color: INK,
            font: { family: SANS, size: 17 },
            callback: (v: any) => String(v),
          },
          title: cfg.xTitle
            ? { display: true, text: cfg.xTitle, color: INK, font: { family: SANS, size: 24 }, padding: { top: 0, bottom: -4 } }
            : { display: false },
        },
        y: {
          type: "linear",
          min: cfg.yMin,
          max: 3.2,
          grid: { display: false },
          border: { display: false },
          afterBuildTicks: (s: any) => { s.ticks = cfg.yTicks.map((value) => ({ value })); },
          afterFit: (s: any) => { s.width = 88; },
          ticks: {
            autoSkip: false,
            padding: 8,
            color: INK,
            font: { family: SANS, size: 17 },
            callback: (v: any) => String(v),
          },
        },
      },
    } as any,
  } as any);
}

const panelA: PanelCfg = {
  tag: "a", greek: "\u03B1", points: alphaPoints, slopes: alphaSlopes, errors: alphaErrors, bold: alphaBold,
  fitStart: alphaFitStart, fitEnd: alphaFitEnd, yMin: 0.5, yTicks: alphaTicks, allDash: [],
  canvasTop: 0, canvasHeight: 436, areaTop: 15, areaBottom: 376,
  legendLeft: 1038, legendTop: 15, legendBottom: 376, legendFirst: 32.5, legendStep: 27.4, tagY: 27, greekY: 172, subDrop: 12,
};
const panelB: PanelCfg = {
  tag: "b", greek: "\u03B2", points: betaPoints, slopes: betaSlopes, errors: betaErrors, bold: betaBold,
  fitStart: betaFitStart, fitEnd: betaFitEnd, yMin: 0, yTicks: betaTicks, allDash: [21.5, 21.3],
  canvasTop: 436, canvasHeight: 436, areaTop: 13, areaBottom: 374,
  legendLeft: 1036, legendTop: 13, legendBottom: 374, legendFirst: 31.3, legendStep: 27.33, tagY: 27, greekY: 172, subDrop: 10, xTitle: "Year",
};

function Panel({ cfg }: { cfg: PanelCfg }) {
  const ref = useRef<HTMLCanvasElement>(null);
  useEffect(() => {
    const chart = buildChart(ref.current as HTMLCanvasElement, cfg);
    return () => chart.destroy();
  }, [cfg]);
  return (
    <canvas
      ref={ref}
      width={1334}
      height={cfg.canvasHeight}
      style={{ position: "absolute", left: 0, top: cfg.canvasTop, width: 1334, height: cfg.canvasHeight }}
    />
  );
}

export default function App() {
  return (
    <div style={{ position: "relative", width: 1334, height: 872, background: "#ffffff" }}>
      <div style={{ position: "fixed", left: 0, top: 0, width: 1334, height: 872, background: "#ffffff", overflow: "hidden" }}>
        <Panel cfg={panelA} />
        <Panel cfg={panelB} />
      </div>
    </div>
  );
}
